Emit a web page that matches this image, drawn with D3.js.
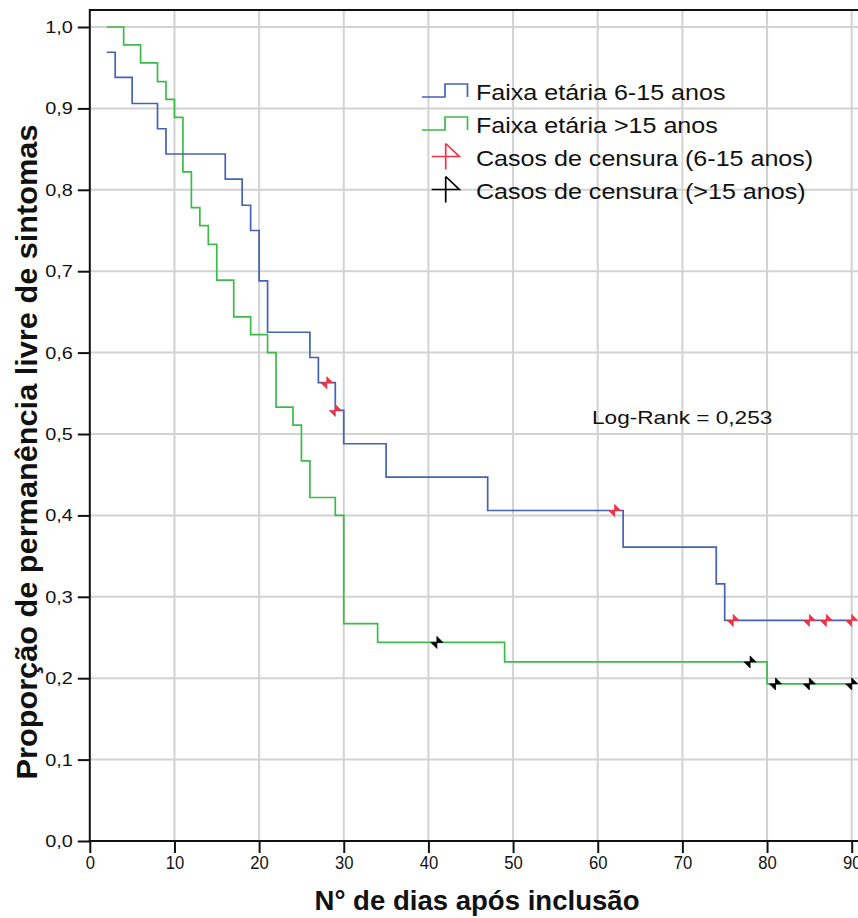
<!DOCTYPE html>
<html>
<head>
<meta charset="utf-8">
<script src="https://cdn.jsdelivr.net/npm/d3@7"></script>
<style>
html,body{margin:0;padding:0;background:#fff;overflow:hidden;}
svg{display:block;}
text{font-family:Arial,"Liberation Sans",sans-serif;}
</style>
</head>
<body>
<svg id="chart" width="858" height="918"></svg>
<script>
// ---- data ----
const blueTimes = [2,3,5,8,9,16,18,19,20,21,26,27,29,30,35,47,63,74,75,90];
const blueSurv  = [0.969,0.938,0.906,0.875,0.844,0.813,0.781,0.750,0.688,0.625,0.594,0.563,0.529,0.488,0.447,0.406,0.361,0.316,0.271,0.271];
const blueCensorTimes = [28,29,62,76,85,87,90];
const blueCensorSurv  = [0.563,0.529,0.406,0.271,0.271,0.271,0.271];

const greenTimes = [2,4,6,8,9,10,11,12,13,14,15,17,19,21,22,24,25,26,29,30,34,49,80,90];
const greenSurv  = [1.0,0.978,0.956,0.933,0.911,0.889,0.822,0.778,0.756,0.733,0.689,0.644,0.622,0.600,0.533,0.511,0.467,0.422,0.400,0.267,0.244,0.220,0.193,0.193];
const greenCensorTimes = [41,78,81,85,90];
const greenCensorSurv  = [0.244,0.220,0.193,0.193,0.193];

const xTicks = [0,10,20,30,40,50,60,70,80,90];
const yTicks = [0,0.1,0.2,0.3,0.4,0.5,0.6,0.7,0.8,0.9,1.0];
const legendLabels = ["Faixa etária 6-15 anos","Faixa etária >15 anos","Casos de censura (6-15 anos)","Casos de censura (>15 anos)"];
const xTitle = "N° de dias após inclusão";
const yTitle = "Proporção de permanência livre de sintomas";
const annotation = "Log-Rank = 0,253";

// ---- styles ----
const BLUE = "#4562b5", GREEN = "#3dbb4a", RED = "#ee3344", BLACK = "#000";
const GRID = "#d2d2d2";
const FONT = "Arial, 'Liberation Sans', sans-serif";

const svg = d3.select("#chart");
const x = d3.scaleLinear().domain([0,90]).range([89.8,851.7]);
const y = d3.scaleLinear().domain([0,1]).range([841,27]);
const plotTop = 10, plotRight = x(96);

// grid
svg.append("g").selectAll("line").data(xTicks.filter(d=>d>0)).join("line")
  .attr("x1",d=>x(d)).attr("x2",d=>x(d)).attr("y1",plotTop).attr("y2",y(0))
  .attr("stroke",GRID).attr("stroke-width",2);
svg.append("g").selectAll("line").data(yTicks.filter(d=>d>0)).join("line")
  .attr("x1",x(0)).attr("x2",plotRight).attr("y1",d=>y(d)).attr("y2",d=>y(d))
  .attr("stroke",GRID).attr("stroke-width",2);

// frame top
svg.append("line").attr("x1",x(0)).attr("x2",plotRight).attr("y1",plotTop).attr("y2",plotTop)
  .attr("stroke","#111").attr("stroke-width",2);

// axes
const fmt = d => d3.format(".1f")(d).replace(".",",");
const yAxis = svg.append("g").attr("transform",`translate(${x(0)},0)`)
  .call(d3.axisLeft(y).tickValues(yTicks).tickFormat(fmt).tickSize(12).tickSizeOuter(0).tickPadding(4));
yAxis.select(".domain").remove();
yAxis.selectAll("line").attr("stroke","#111").attr("stroke-width",2);
yAxis.selectAll("text").attr("font-size",17).attr("fill","#111").attr("font-family",FONT)
  .attr("x",0).attr("transform","translate(-17,0) scale(1.17,1)");

const xAxis = svg.append("g").attr("transform",`translate(0,${y(0)})`)
  .call(d3.axisBottom(x).tickValues(xTicks).tickFormat(d3.format("d")).tickSize(12).tickSizeOuter(0).tickPadding(3));
xAxis.select(".domain").remove();
xAxis.selectAll("line").attr("stroke","#111").attr("stroke-width",2);
xAxis.selectAll("text").attr("font-size",18.5).attr("fill","#111").attr("font-family",FONT)
  .attr("y",0).attr("transform","translate(0,15) scale(0.9,1)");

svg.append("line").attr("x1",x(0)).attr("x2",x(0)).attr("y1",plotTop-1).attr("y2",y(0)+1)
  .attr("stroke","#111").attr("stroke-width",2);
svg.append("line").attr("x1",x(0)-1).attr("x2",plotRight).attr("y1",y(0)).attr("y2",y(0))
  .attr("stroke","#111").attr("stroke-width",2);

// curves
const line = d3.line().x(d=>x(d[0])).y(d=>y(d[1])).curve(d3.curveStepAfter);
const blueData = blueTimes.map((t,i)=>[t,blueSurv[i]]);
const greenData = greenTimes.map((t,i)=>[t,greenSurv[i]]);
svg.append("path").datum(greenData).attr("d",line).attr("fill","none").attr("stroke",GREEN).attr("stroke-width",1.7);
svg.append("path").datum(blueData).attr("d",line).attr("fill","none").attr("stroke",BLUE).attr("stroke-width",1.7);

// censor markers
const s = 6;
const markerPath = `M0,0L0,${-s}L${s},0Z M0,0L${-s},0L0,${s}Z`;
function censors(times, surv, color){
  svg.append("g").selectAll("path").data(times.map((t,i)=>[t,surv[i]])).join("path")
    .attr("d",markerPath).attr("transform",d=>`translate(${x(d[0])},${y(d[1])})`)
    .attr("fill",color).attr("stroke",color).attr("stroke-width",0.8);
}
censors(blueCensorTimes, blueCensorSurv, RED);
censors(greenCensorTimes, greenCensorSurv, BLACK);

// legend
const lg = svg.append("g");
const rowY = [97, 130, 163, 196];
const lineColors = [BLUE, GREEN];
[0,1].forEach(i=>{
  const yb = rowY[i], yt = rowY[i]-13;
  lg.append("path").attr("d",`M422,${yb}H445V${yt}H467.5V${yb}`)
    .attr("fill","none").attr("stroke",lineColors[i]).attr("stroke-width",1.7);
});
[RED, BLACK].forEach((c,j)=>{
  const cy = rowY[j+2]-6.5;
  lg.append("path").attr("d",`M445.7,${cy-13}V${cy+13}M431.7,${cy}H459.3L445.7,${cy-13}`)
    .attr("fill","none").attr("stroke",c).attr("stroke-width",1.7);
});
lg.selectAll("text").data(legendLabels).join("text")
  .attr("transform",(d,i)=>`translate(476,${rowY[i]+3}) scale(1.14,1)`)
  .attr("font-size",22).attr("fill","#111").text(d=>d);

// annotation
svg.append("text").attr("transform","translate(592,424) scale(1.19,1)")
  .attr("font-size",19).attr("fill","#111").text(annotation);

// titles
svg.append("text").attr("x",477).attr("y",910).attr("text-anchor","middle")
  .attr("font-size",27).attr("font-weight","bold").attr("fill","#111")
  .attr("textLength",325).attr("lengthAdjust","spacingAndGlyphs").text(xTitle);
svg.append("text").attr("transform",`translate(37,${452}) rotate(-90)`).attr("text-anchor","middle")
  .attr("font-size",29).attr("font-weight","bold").attr("fill","#111")
  .attr("textLength",655).attr("lengthAdjust","spacingAndGlyphs").text(yTitle);
</script>
</body>
</html>
